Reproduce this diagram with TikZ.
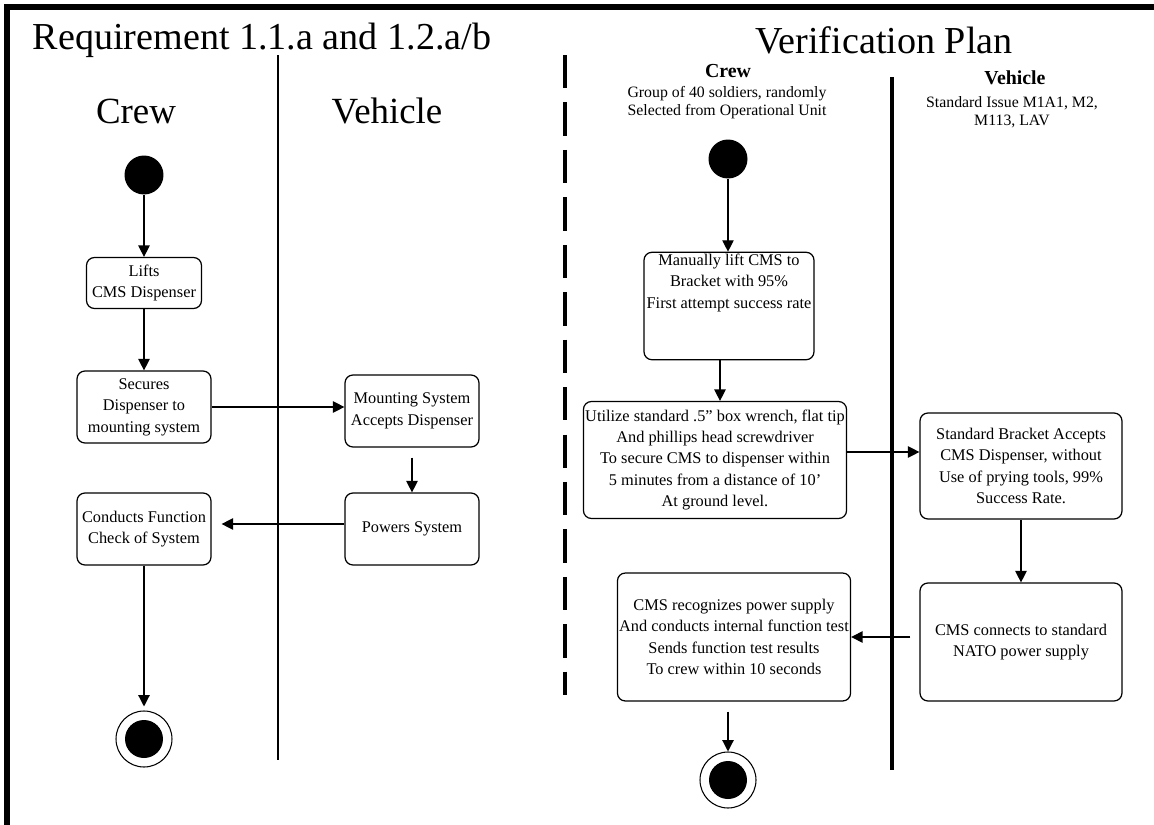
\documentclass[tikz,border=0pt]{standalone}
\usepackage{fontspec}
\setmainfont{Liberation Serif}
\usetikzlibrary{arrows.meta,positioning}
\begin{document}
\begin{tikzpicture}[x=0.02cm,y=-0.02cm,
	act/.style={draw,rounded corners=4.5pt,line width=0.7pt,align=center,inner sep=1pt,
		font=\fontsize{9.3}{12.2}\selectfont},
	arr/.style={-{Triangle[length=6.5pt,width=6.5pt]},line width=0.7pt},
	title/.style={font=\fontsize{21.7}{26}\selectfont,inner sep=0pt},
	head/.style={font=\fontsize{21}{24}\selectfont},
	bhead/.style={font=\bfseries\fontsize{11.3}{13}\selectfont,inner sep=0pt},
	sub/.style={align=center,font=\fontsize{9}{10.2}\selectfont,inner sep=0pt},
	initial/.style={circle,fill=black,minimum size=0.78cm,inner sep=0pt},
	final/.style={circle,draw,line width=0.6pt,minimum size=1.12cm,inner sep=0pt}]
\useasboundingbox (0,0) rectangle (1154,825);
\draw[line width=3.4pt] (7,825)--(7,7)--(1154,7);
% titles and lanes
\node[title] (tReq) at (262,40) {Requirement 1.1.a and 1.2.a/b};
\node[title] (tVer) at (884,40) {Verification Plan};
\draw[line width=1.7pt] (278,55)--(278,760);
\draw[line width=2.3pt,dash pattern=on 19pt off 8pt] (565,55)--(565,695);
\draw[line width=2.3pt] (892,77)--(892,770);
\node[head] (hCrew) at (136,111) {Crew};
\node[head] (hVeh) at (387,111) {Vehicle};
\node[bhead] (hCrew2) at (728,71) {Crew};
\node[sub] (sCrew) at (727,103) {Group of 40 soldiers, randomly\\Selected from Operational Unit};
\node[bhead] (hVeh2) at (1015,78) {Vehicle};
\node[sub] (sVeh) at (1012,112) {Standard Issue M1A1, M2,\\M113, LAV};
% requirement flow
\node[initial] (s1) at (144,175) {};
\node[act,minimum width=2.3cm,minimum height=1.02cm] (lift) at (144,283) {Lifts\\CMS Dispenser};
\node[act,minimum width=2.68cm,minimum height=1.44cm] (sec) at (144,407) {Secures\\Dispenser to\\mounting system};
\node[act,minimum width=2.68cm,minimum height=1.44cm] (mnt) at (412,411) {Mounting System\\Accepts Dispenser};
\node[act,minimum width=2.68cm,minimum height=1.44cm] (pwr) at (412,529) {Powers System};
\node[act,minimum width=2.68cm,minimum height=1.44cm] (chk) at (144,529) {Conducts Function\\Check of System};
\node[final] (e1) at (144,739) {};
\fill (e1) circle (0.38cm);
\path (mnt.south) ++(0,10) coordinate (m1);
\draw[arr] (s1)--(lift);
\draw[arr] (lift)--(sec);
\draw[arr] (sec.east)--(sec.east -| mnt.west);
\draw[arr] (m1)--(pwr);
\draw[arr,shorten >=0.2cm] ([yshift=0.1cm]pwr.west)--([yshift=0.1cm]chk.east);
\draw[arr,shorten >=0.08cm] (chk)--(e1);
% verification flow
\node[initial] (s2) at (728,159) {};
\node[act,minimum width=3.4cm,minimum height=2.1cm] (man) at (729,306) {Manually lift CMS to\\Bracket with 95\%\\First attempt success rate\\[16pt]};
\node[act,minimum width=5.2cm,minimum height=2.34cm] (util) at (715,460) {Utilize standard .5” box wrench, flat tip\\And phillips head screwdriver\\To secure CMS  to dispenser within\\5 minutes from a distance of 10’\\At ground level.};
\node[act,minimum width=4.04cm,minimum height=2.12cm] (brk) at (1021,466) {Standard Bracket Accepts\\CMS Dispenser, without\\Use of prying tools, 99\%\\Success Rate.};
\node[act,minimum width=4.04cm,minimum height=2.36cm] (conn) at (1021,642) {CMS connects to standard\\NATO power supply};
\node[act,minimum width=4.44cm,minimum height=2.56cm] (rec) at (734,637) {CMS recognizes power supply\\And conducts internal function test\\Sends function  test results\\To crew within 10 seconds};
\node[final] (e2) at (728,780) {};
\fill (e2) circle (0.38cm);
\path (720,0) coordinate (ax)
	(conn.west) ++(-9,-5) coordinate (c1)
	(rec.south -| e2) ++(0,10) coordinate (r1);
\draw[arr] (s2)--(s2 |- man.north);
\draw[arr] (man.south -| ax)--(util.north -| ax);
\draw[arr] ([yshift=0.16cm]util.east)--([yshift=0.16cm]util.east -| brk.west);
\draw[arr] (brk)--(conn);
\draw[arr] (c1)--(c1 -| rec.east);
\draw[arr] (r1)--(e2);
\end{tikzpicture}
\end{document}
